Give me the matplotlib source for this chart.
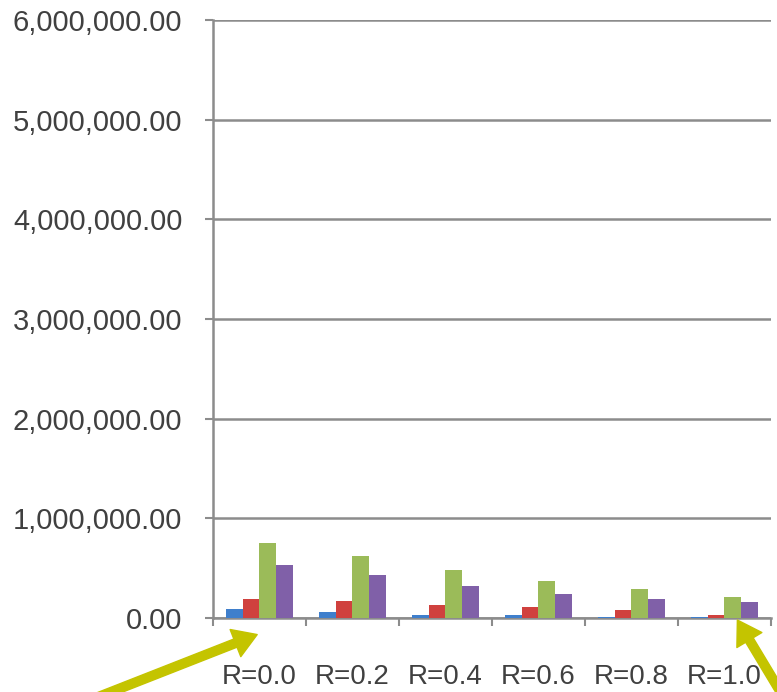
import matplotlib.pyplot as plt
import numpy as np

categories = ["R=0.0", "R=0.2", "R=0.4", "R=0.6", "R=0.8", "R=1.0"]
series_a = [85000, 57000, 34000, 25000, 8000, 8000]
series_b = [190000, 167000, 134000, 107000, 84000, 25000]
series_c = [752000, 619000, 478000, 375000, 295000, 210000]
series_d = [535000, 435000, 318000, 241000, 190000, 160000]
y_ticks = [0, 1000000, 2000000, 3000000, 4000000, 5000000, 6000000]

COLORS = ["#3f7fcc", "#d0413e", "#9bbb59", "#8060a8"]
GRID = "#8c8c8c"
TEXT = "#404040"
ARROW = "#c4c400"


def main():
    plt.rcParams["font.family"] = ["Liberation Sans", "DejaVu Sans"]
    fig = plt.figure(figsize=(7.77, 6.92), dpi=100)
    ax = fig.add_axes([0.274, 0.107, 0.718, 0.864])

    x = np.arange(len(categories))
    width = 0.18
    all_series = [series_a, series_b, series_c, series_d]
    for i, (values, color) in enumerate(zip(all_series, COLORS)):
        ax.bar(x + (i - 1.5) * width, values, width, color=color, zorder=3)

    ax.set_xlim(-0.5, len(categories) - 0.5)
    ax.set_ylim(0, 6000000)

    ax.set_yticks(y_ticks)
    ax.set_yticklabels([f"{v:,.2f}" for v in y_ticks])
    ax.yaxis.grid(True, color=GRID, linewidth=1.8, zorder=0)

    ax.set_xticks(np.arange(len(categories) + 1) - 0.5)
    ax.set_xticklabels([])
    ax.set_xticks(x, minor=True)
    ax.set_xticklabels(categories, minor=True)
    ax.tick_params(axis="x", which="major", length=6, width=1.5, color=GRID)
    ax.tick_params(axis="x", which="minor", length=0, pad=33,
                   labelsize=20, labelcolor=TEXT)
    ax.tick_params(axis="y", length=6, width=1.5, color=GRID, pad=16,
                   labelsize=21, labelcolor=TEXT)

    for side in ["top", "right"]:
        ax.spines[side].set_visible(False)
    for side in ["left", "bottom"]:
        ax.spines[side].set_color(GRID)
        ax.spines[side].set_linewidth(1.8)

    arrow = dict(arrowstyle="simple,head_length=1.2,head_width=1.5,tail_width=0.45",
                 mutation_scale=14, color=ARROW, shrinkA=0, shrinkB=0)
    fig.add_artist(plt.Annotation("", xy=(0.331, 0.083), xytext=(0.12, -0.01),
                                  xycoords="figure fraction",
                                  textcoords="figure fraction",
                                  arrowprops=arrow, annotation_clip=False))
    fig.add_artist(plt.Annotation("", xy=(0.949, 0.104), xytext=(1.01, -0.01),
                                  xycoords="figure fraction",
                                  textcoords="figure fraction",
                                  arrowprops=arrow, annotation_clip=False))

    fig.savefig("out.png", dpi=100)


if __name__ == "__main__":
    main()
